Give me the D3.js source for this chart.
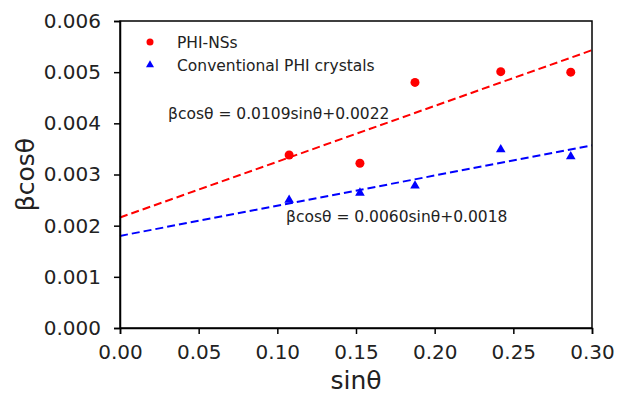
<!DOCTYPE html>
<meta charset="utf-8" />
<title>βcosθ vs sinθ</title>
<style>
  body { margin: 0; background: #fff; }
  svg { font-family: "DejaVu Sans", sans-serif; }
  .tick text { font-size: 20px; fill: #222; }
  .domain, .tick line { stroke: #000; stroke-width: 1.5px; }
</style>
<body>
<script src="https://cdnjs.cloudflare.com/ajax/libs/d3/7.8.5/d3.min.js"></script>
<script>
  // data
  var sinTheta = [0.1075, 0.1525, 0.1875, 0.242, 0.2865];
  var nsValues = [0.00338, 0.00322, 0.0048, 0.00501, 0.0050];
  var crystalValues = [0.0025, 0.00264, 0.00278, 0.00349, 0.00335];
  var fitNS = [0.0109, 0.00216];       // slope, intercept
  var fitCrystal = [0.0059, 0.0018];
  var xTicks = [0, 0.05, 0.1, 0.15, 0.2, 0.25, 0.3];
  var yTicks = [0, 0.001, 0.002, 0.003, 0.004, 0.005, 0.006];

  var width = 617, height = 394;
  var margin = { top: 21, right: 25, bottom: 66, left: 120 };

  var svg = d3.select("body").append("svg")
    .attr("width", width)
    .attr("height", height);

  var x = d3.scaleLinear().domain([0, 0.3]).range([margin.left, width - margin.right]);
  var y = d3.scaleLinear().domain([0, 0.006]).range([height - margin.bottom, margin.top]);

  // fit lines
  var line = d3.line().x(function (d) { return x(d[0]); }).y(function (d) { return y(d[1]); });
  function fitPoints(f) {
    return [0, 0.3].map(function (s) { return [s, f[0] * s + f[1]]; });
  }
  svg.append("path").attr("d", line(fitPoints(fitNS)))
    .attr("fill", "none").attr("stroke", "#ff0000").attr("stroke-width", 2)
    .attr("stroke-dasharray", "8,4");
  svg.append("path").attr("d", line(fitPoints(fitCrystal)))
    .attr("fill", "none").attr("stroke", "#0000ff").attr("stroke-width", 2)
    .attr("stroke-dasharray", "8,4");

  var tri = d3.symbol().type(d3.symbolTriangle).size(40);

  svg.selectAll(".ns").data(sinTheta).enter().append("circle")
    .attr("class", "ns")
    .attr("cx", function (d) { return x(d); })
    .attr("cy", function (d, i) { return y(nsValues[i]); })
    .attr("r", 4.5)
    .attr("fill", "#ff0000");

  svg.selectAll(".cr").data(sinTheta).enter().append("path")
    .attr("class", "cr")
    .attr("d", tri)
    .attr("transform", function (d, i) { return "translate(" + x(d) + "," + y(crystalValues[i]) + ")"; })
    .attr("fill", "#0000ff");

  // axes
  svg.append("g")
    .attr("transform", "translate(0," + (height - margin.bottom) + ")")
    .call(d3.axisBottom(x).tickValues(xTicks).tickFormat(d3.format(".2f")).tickSizeOuter(0).tickSize(6).tickPadding(11));
  svg.append("g")
    .attr("transform", "translate(" + margin.left + ",0)")
    .call(d3.axisLeft(y).tickValues(yTicks).tickFormat(d3.format(".3f")).tickSizeOuter(0).tickSize(6).tickPadding(13));
  svg.selectAll(".tick text").style("font-family", "DejaVu Sans");

  // top and right spines
  svg.append("rect")
    .attr("x", margin.left).attr("y", margin.top)
    .attr("width", width - margin.left - margin.right)
    .attr("height", height - margin.top - margin.bottom)
    .attr("fill", "none").attr("stroke", "#000").attr("stroke-width", 1.5);

  // axis labels
  svg.append("text")
    .attr("x", x(0.15)).attr("y", 389)
    .attr("text-anchor", "middle")
    .attr("font-size", 25).attr("fill", "#222")
    .text("sinθ");
  svg.append("text")
    .attr("transform", "translate(34," + y(0.003) + ") rotate(-90)")
    .attr("text-anchor", "middle")
    .attr("font-size", 25).attr("fill", "#222")
    .text("βcosθ");

  // legend
  var legend = svg.append("g").attr("font-size", 15.5).attr("fill", "#222");
  legend.append("circle").attr("cx", 150).attr("cy", 42).attr("r", 3.5).attr("fill", "#ff0000");
  legend.append("text").attr("x", 177).attr("y", 47.5).text("PHI-NSs");
  legend.append("path").attr("d", d3.symbol().type(d3.symbolTriangle).size(28))
    .attr("transform", "translate(150,65)").attr("fill", "#0000ff");
  legend.append("text").attr("x", 177).attr("y", 70.5).text("Conventional PHI crystals");

  // equations
  svg.append("text").attr("x", 168).attr("y", 119).attr("font-size", 15.5).attr("fill", "#222")
    .text("βcosθ = 0.0109sinθ+0.0022");
  svg.append("text").attr("x", 286).attr("y", 222).attr("font-size", 15.5).attr("fill", "#222")
    .text("βcosθ = 0.0060sinθ+0.0018");
</script>
</body>
